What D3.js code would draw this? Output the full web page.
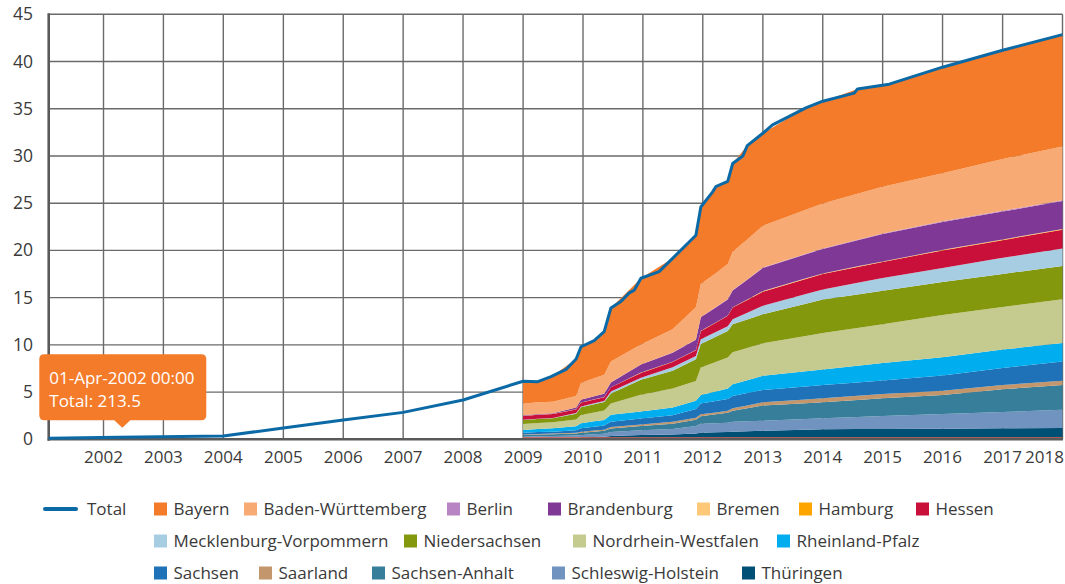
<!DOCTYPE html>
<html>
<head>
<meta charset="utf-8">
<script src="https://cdn.jsdelivr.net/npm/d3@7"></script>
<style>
  body { margin: 0; background: #fff; }
  svg text { font-family: "Open Sans", sans-serif; fill: #3a3a3a; }
</style>
</head>
<body>
<svg id="canvas" width="1065" height="584"></svg>
<script>
// ---- data (GW) ----
let totalDates = ["2001-02-01","2002-04-01","2004-01-01","2005-01-01","2006-01-01","2007-01-01","2008-01-01",
  "2009-01-01","2009-04-01","2009-06-20","2009-09-20","2009-11-20","2009-12-20","2010-03-10","2010-05-10",
  "2010-06-20","2010-08-20","2010-10-10","2010-11-10","2010-12-20","2011-04-10","2011-11-20","2011-12-20",
  "2012-03-01","2012-03-20","2012-06-01","2012-07-01","2012-09-01","2012-09-28","2013-01-01","2013-03-01",
  "2013-09-20","2014-01-01","2014-07-12","2014-08-01","2015-02-10","2016-01-01","2017-01-01","2018-01-01"]
let totalValues = [0.10, 0.2135, 0.35, 1.20, 2.05, 2.85, 4.16,
  6.15, 6.10, 6.63, 7.40, 8.50, 9.80, 10.45, 11.40,
  13.90, 14.60, 15.50, 15.80, 17.05, 17.75, 21.60, 24.60,
  26.20, 26.75, 27.30, 29.20, 30.00, 31.10, 32.40, 33.30,
  35.10, 35.80, 36.65, 37.10, 37.60, 39.40, 41.20, 42.85]

let stateDates = ["2009-01-01","2009-04-01","2009-07-01","2009-11-20","2009-12-20","2010-03-10","2010-05-10",
  "2010-06-20","2010-12-20","2011-07-01","2011-11-20","2011-12-20","2012-03-20","2012-06-01","2012-07-01",
  "2012-09-28","2013-01-01","2013-09-20","2014-01-01","2014-08-01","2015-01-01","2016-01-01","2017-01-01","2018-01-01"]

let bayern = [2.30, 2.19, 2.74, 3.91, 3.84, 3.99, 4.56, 5.66, 7.02, 7.53, 7.62, 8.16, 9.16, 8.75, 9.35, 9.94, 9.78, 10.79, 10.79, 11.09, 10.75, 11.22, 11.51, 11.86]
let badenWuerttemberg = [1.22, 1.22, 1.21, 1.22, 1.77, 1.90, 2.00, 2.20, 2.10, 2.45, 3.40, 3.50, 3.61, 3.70, 4.05, 4.23, 4.42, 4.67, 4.77, 4.87, 4.95, 5.10, 5.50, 5.68]
let berlin = [0.01, 0.01, 0.01, 0.01, 0.01, 0.01, 0.02, 0.02, 0.02, 0.03, 0.03, 0.03, 0.03, 0.04, 0.04, 0.04, 0.05, 0.05, 0.06, 0.06, 0.07, 0.07, 0.08, 0.08]
let brandenburg = [0.05, 0.06, 0.06, 0.18, 0.28, 0.32, 0.35, 0.50, 0.85, 0.95, 1.10, 1.42, 1.57, 1.70, 1.77, 2.10, 2.46, 2.55, 2.58, 2.77, 2.90, 2.95, 2.95, 2.95]
let bremen = [0.01, 0.01, 0.01, 0.01, 0.01, 0.01, 0.01, 0.01, 0.01, 0.01, 0.01, 0.02, 0.02, 0.02, 0.02, 0.02, 0.03, 0.03, 0.03, 0.03, 0.03, 0.03, 0.04, 0.04]
let hamburg = [0.01, 0.01, 0.01, 0.01, 0.01, 0.01, 0.01, 0.01, 0.02, 0.02, 0.02, 0.02, 0.02, 0.02, 0.02, 0.02, 0.03, 0.03, 0.03, 0.03, 0.03, 0.03, 0.04, 0.04]
let hessen = [0.41, 0.42, 0.42, 0.38, 0.40, 0.40, 0.40, 0.45, 0.50, 0.55, 0.60, 0.85, 0.99, 1.10, 1.23, 1.35, 1.49, 1.60, 1.65, 1.68, 1.70, 1.85, 1.87, 2.00]
let mecklenburgVorpommern = [0.02, 0.03, 0.04, 0.08, 0.08, 0.09, 0.10, 0.20, 0.22, 0.36, 0.35, 0.50, 0.50, 0.50, 0.55, 0.72, 0.90, 1.02, 1.06, 1.23, 1.35, 1.50, 1.70, 1.84]
let niedersachsen = [0.42, 0.42, 0.42, 0.60, 0.83, 0.87, 0.90, 1.05, 1.59, 1.90, 2.30, 2.50, 2.67, 2.80, 2.95, 3.01, 3.07, 3.41, 3.54, 3.55, 3.55, 3.50, 3.49, 3.53]
let nordrheinWestfalen = [0.63, 0.64, 0.64, 0.72, 0.88, 0.95, 1.00, 1.20, 1.77, 2.00, 2.10, 2.90, 3.12, 3.30, 3.40, 3.42, 3.45, 3.74, 3.85, 4.00, 4.10, 4.45, 4.52, 4.63]
let rheinlandPfalz = [0.29, 0.32, 0.35, 0.43, 0.53, 0.57, 0.60, 0.75, 0.75, 0.82, 0.85, 0.90, 1.01, 1.10, 1.24, 1.36, 1.50, 1.62, 1.66, 1.77, 1.85, 1.95, 1.95, 1.97]
let sachsen = [0.20, 0.20, 0.20, 0.25, 0.35, 0.40, 0.43, 0.55, 0.62, 0.70, 0.95, 1.15, 1.20, 1.25, 1.30, 1.30, 1.30, 1.37, 1.40, 1.41, 1.42, 1.60, 1.80, 2.03]
let saarland = [0.05, 0.06, 0.07, 0.08, 0.11, 0.12, 0.12, 0.15, 0.18, 0.20, 0.20, 0.20, 0.21, 0.22, 0.25, 0.30, 0.35, 0.40, 0.42, 0.44, 0.46, 0.45, 0.45, 0.45]
let sachsenAnhalt = [0.17, 0.19, 0.20, 0.22, 0.24, 0.27, 0.30, 0.37, 0.45, 0.55, 0.65, 0.80, 0.94, 1.05, 1.18, 1.38, 1.60, 1.67, 1.70, 1.80, 1.87, 2.02, 2.41, 2.61]
let schleswigHolstein = [0.18, 0.20, 0.21, 0.23, 0.25, 0.29, 0.32, 0.42, 0.50, 0.58, 0.80, 0.95, 0.96, 0.97, 1.04, 1.05, 1.06, 1.13, 1.16, 1.29, 1.38, 1.55, 1.73, 1.94]
let thueringen = [0.10, 0.12, 0.13, 0.17, 0.21, 0.25, 0.28, 0.36, 0.45, 0.52, 0.62, 0.70, 0.74, 0.78, 0.81, 0.86, 0.91, 1.02, 1.06, 1.08, 1.09, 1.13, 1.16, 1.20]

let stateNames = ["Bayern","Baden-Württemberg","Berlin","Brandenburg","Bremen","Hamburg","Hessen",
  "Mecklenburg-Vorpommern","Niedersachsen","Nordrhein-Westfalen","Rheinland-Pfalz",
  "Sachsen","Saarland","Sachsen-Anhalt","Schleswig-Holstein","Thüringen"]
let stateValues = [bayern, badenWuerttemberg, berlin, brandenburg, bremen, hamburg, hessen,
  mecklenburgVorpommern, niedersachsen, nordrheinWestfalen, rheinlandPfalz,
  sachsen, saarland, sachsenAnhalt, schleswigHolstein, thueringen]
let stateColors = ["#f47b2a","#f8aa74","#b984c4","#7f3896","#fdc978","#ffa500","#c8103a",
  "#a7cde3","#83980d","#c5ca8f","#00aeef","#1f71b8","#c4966b","#367e99","#7193c0","#004f75"]

let yTicks = [0, 5, 10, 15, 20, 25, 30, 35, 40, 45]
let xTickYears = [2002, 2003, 2004, 2005, 2006, 2007, 2008, 2009, 2010, 2011, 2012, 2013, 2014, 2015, 2016, 2017, 2018]

let tooltipIndex = 1

// legend layout: rows of [name, left x]
let legendRows = [
  [["Total", 43], ["Bayern", 154], ["Baden-Württemberg", 244], ["Berlin", 447], ["Brandenburg", 548],
   ["Bremen", 697], ["Hamburg", 799], ["Hessen", 916]],
  [["Mecklenburg-Vorpommern", 154], ["Niedersachsen", 404], ["Nordrhein-Westfalen", 573], ["Rheinland-Pfalz", 777]],
  [["Sachsen", 154], ["Saarland", 259], ["Sachsen-Anhalt", 372], ["Schleswig-Holstein", 552], ["Thüringen", 742]]
]

// ---- chart ----
let canvas = d3.select('#canvas')
let parse = d3.utcParse('%Y-%m-%d')

let plotLeft = 48.7, plotRight = 1062.5, plotTop = 14.3, plotBottom = 439.3

let x = d3.scaleUtc()
  .domain([parse('2001-02-01'), parse('2018-01-01')])
  .range([plotLeft, plotRight])
let y = d3.scaleLinear().domain([0, 45]).range([plotBottom, plotTop])

// grid
let grid = canvas.append('g')
grid.selectAll('line.h')
  .data(yTicks)
  .enter().append('line')
  .attr('x1', plotLeft).attr('x2', plotRight)
  .attr('y1', d => y(d)).attr('y2', d => y(d))
  .attr('stroke', '#6a6a6a').attr('stroke-width', 1.4)
grid.selectAll('line.v')
  .data(xTickYears)
  .enter().append('line')
  .attr('x1', d => x(Date.UTC(d, 0, 1))).attr('x2', d => x(Date.UTC(d, 0, 1)))
  .attr('y1', plotTop).attr('y2', plotBottom)
  .attr('stroke', '#6a6a6a').attr('stroke-width', 1.4)

// stacked areas, first legend entry on top
let rows = stateDates.map((d, i) => {
  let row = { date: parse(d) }
  stateNames.forEach((name, k) => { row[name] = stateValues[k][i] })
  return row
})
let stackKeys = stateNames.slice().reverse()
let series = d3.stack().keys(stackKeys)(rows)

let area = d3.area()
  .x(d => x(d.data.date))
  .y0(d => y(d[0]))
  .y1(d => y(d[1]))

canvas.append('g').selectAll('path')
  .data(series)
  .enter().append('path')
  .attr('d', area)
  .attr('fill', s => stateColors[stateNames.indexOf(s.key)])

// thin line along the base of the stack
canvas.append('line')
  .attr('x1', x(parse(stateDates[0]))).attr('x2', plotRight)
  .attr('y1', plotBottom - 1.5).attr('y2', plotBottom - 1.5)
  .attr('stroke', '#e0604e').attr('stroke-width', 1.2)

// axis lines
canvas.append('line')
  .attr('x1', plotLeft).attr('x2', plotLeft).attr('y1', plotTop - 1).attr('y2', plotBottom + 1.5)
  .attr('stroke', '#5a5a5a').attr('stroke-width', 2.6)
canvas.append('line')
  .attr('x1', plotLeft - 1).attr('x2', plotRight + 0.5).attr('y1', plotBottom).attr('y2', plotBottom)
  .attr('stroke', '#5a5a5a').attr('stroke-width', 2.6)

// total line
let totalData = totalDates.map((d, i) => ({ date: parse(d), value: totalValues[i] }))
let line = d3.line().x(d => x(d.date)).y(d => y(d.value))
canvas.append('path')
  .datum(totalData)
  .attr('d', line)
  .attr('fill', 'none')
  .attr('stroke', '#0b6aa6')
  .attr('stroke-width', 3)
  .attr('stroke-linejoin', 'round')

// axis labels
canvas.append('g').selectAll('text')
  .data(yTicks)
  .enter().append('text')
  .attr('x', 33).attr('y', d => y(d) + 6)
  .attr('text-anchor', 'end')
  .style('font-size', '17.5px')
  .text(d => d)
canvas.append('g').selectAll('text')
  .data(xTickYears)
  .enter().append('text')
  .attr('x', (d, i) => i === xTickYears.length - 1 ? 1064 : x(Date.UTC(d, 0, 1)))
  .attr('y', 463)
  .attr('text-anchor', (d, i) => i === xTickYears.length - 1 ? 'end' : 'middle')
  .style('font-size', '17px')
  .text(d => d)

// tooltip
let tip = totalData[tooltipIndex]
let ax = x(tip.date) + 4, ay = y(tip.value) - 10
let tipG = canvas.append('g')
let bx = ax - 83, by = ay - 73, bw = 167, bh = 66, br = 5
tipG.append('path')
  .attr('d', 'M' + (bx + br) + ',' + by + 'H' + (bx + bw - br) + 'Q' + (bx + bw) + ',' + by + ' ' + (bx + bw) + ',' + (by + br) +
    'V' + (by + bh - br) + 'Q' + (bx + bw) + ',' + (by + bh) + ' ' + (bx + bw - br) + ',' + (by + bh) +
    'H' + (ax + 8) + 'L' + ax + ',' + (ay + 0.5) + 'L' + (ax - 8) + ',' + (by + bh) +
    'H' + (bx + br) + 'Q' + bx + ',' + (by + bh) + ' ' + bx + ',' + (by + bh - br) +
    'V' + (by + br) + 'Q' + bx + ',' + by + ' ' + (bx + br) + ',' + by + 'Z')
  .attr('fill', '#f47b2a')
tipG.append('text')
  .attr('x', bx + 10).attr('y', by + 30)
  .style('font-size', '17px').style('fill', '#fff')
  .text(d3.utcFormat('%d-%b-%Y %H:%M')(tip.date))
tipG.append('text')
  .attr('x', bx + 10).attr('y', by + 53)
  .style('font-size', '17px').style('fill', '#fff')
  .text('Total: ' + (tip.value * 1000).toFixed(1))

// legend
let legend = canvas.append('g')
legendRows.forEach((items, r) => {
  let cy = 509 + r * 32
  items.forEach(([name, lx]) => {
    if (name === 'Total') {
      legend.append('line')
        .attr('x1', lx + 2).attr('x2', lx + 33).attr('y1', cy).attr('y2', cy)
        .attr('stroke', '#0b6aa6').attr('stroke-width', 4).attr('stroke-linecap', 'round')
      legend.append('text').attr('x', lx + 44).attr('y', cy + 6)
        .style('font-size', '17px').text(name)
    } else {
      legend.append('rect')
        .attr('x', lx).attr('y', cy - 6.5).attr('width', 13).attr('height', 13)
        .attr('fill', stateColors[stateNames.indexOf(name)])
      legend.append('text').attr('x', lx + 19.5).attr('y', cy + 6)
        .style('font-size', '17px').text(name)
    }
  })
})
</script>
</body>
</html>
